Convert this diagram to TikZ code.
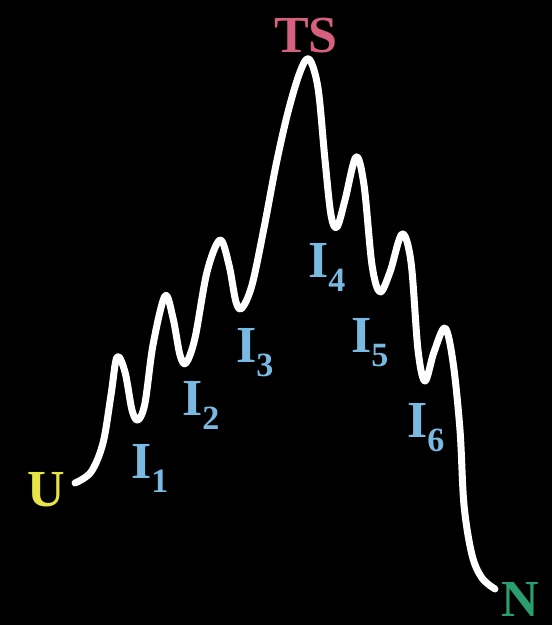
\documentclass[tikz,border=0pt]{standalone}
\usepackage{fontspec}
\setmainfont{Liberation Serif}
\usetikzlibrary{positioning}

\definecolor{ucol}{RGB}{232,228,72}
\definecolor{tscol}{RGB}{214,96,126}
\definecolor{ncol}{RGB}{42,158,110}
\definecolor{icol}{RGB}{122,186,226}

\newcommand{\Isub}[1]{I\raisebox{-0.28em}{\fontsize{34}{34}\selectfont #1}}

\begin{document}
\begin{tikzpicture}[x=1pt,y=-1pt,
    lab/.style={inner sep=0pt,anchor=base west,font=\fontsize{52}{60}\selectfont\bfseries},
    inter/.style={lab,text=icol},
    path/.style={draw=white,line width=7pt,line cap=round,line join=round}]
  % background and frame
  \fill[black] (0,0) rectangle (552,625);
  \useasboundingbox (0,0) rectangle (552,625);
  % energy profile
  \draw[path] plot[smooth,tension=0.55] coordinates {
    (75,483) (91,472) (103,443) (111,395) (117,357) (125,372) (132,410) (138,420)
    (145,403) (153,345) (165,296) (173,318) (180,355) (186,363)
    (195,338) (207,272) (220,240) (229,265) (236,302) (242,308)
    (252,285) (264,228) (276,165) (288,112) (300,72) (309,59)
    (318,88) (325,160) (331,215) (337,227) (345,200) (356,157)
    (364,185) (372,265) (380,292) (390,272) (402,234)
    (411,262) (418,350) (425,381) (434,352) (445,328)
    (453,362) (460,430) (464,505) (472,555) (482,578) (495,589)};
  % end points
  \node[lab,text=ucol] (U) at (27,506) {U};
  \node[lab,text=tscol] (TS) at (274,52) {TS};
  \node[lab,text=ncol] (N) at (501,616) {N};
  % intermediates
  \node[inter] (I1) at (131,478) {\Isub{1}};
  \node[inter] (I2) at (182,415) {\Isub{2}};
  \node[inter] (I3) at (236,362) {\Isub{3}};
  \node[inter] (I4) at (308,277) {\Isub{4}};
  \node[inter] (I5) at (351,352) {\Isub{5}};
  \node[inter] (I6) at (407,437) {\Isub{6}};
\end{tikzpicture}
\end{document}
